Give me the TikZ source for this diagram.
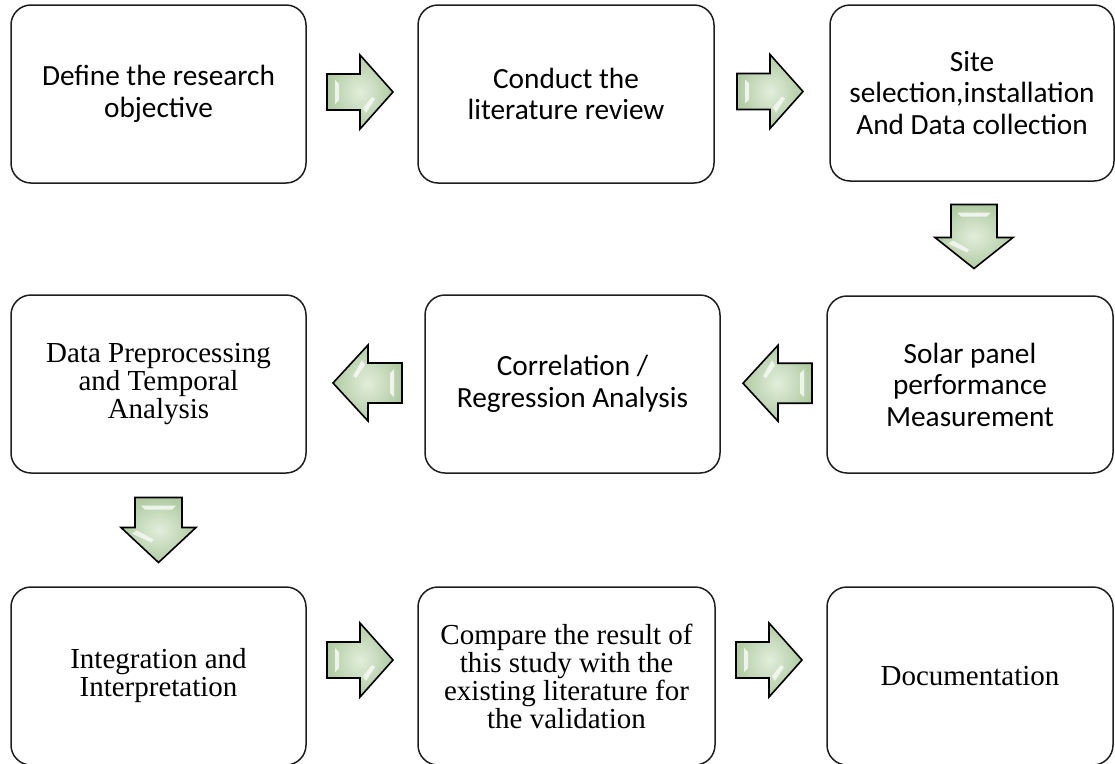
\documentclass[tikz,border=0pt]{standalone}
\usepackage{fontspec}
\setmainfont{Carlito}
\newfontfamily\timesf{Liberation Serif}
\usetikzlibrary{calc}
\definecolor{arrowmid}{RGB}{226,238,220}
\definecolor{arrowedge}{RGB}{176,203,162}
\definecolor{boxline}{RGB}{30,30,30}
\tikzset{
  box/.style={draw=boxline, line width=1.5pt, rounded corners=20pt,
    minimum width=295pt, minimum height=178pt, align=center, inner sep=0pt},
  calib/.style={font=\fontsize{29.3}{31.5}\selectfont},
  tnr/.style={font=\timesf\fontsize{29}{28}\selectfont},
  pics/barrow/.style args={#1/#2/#3/#4}{code={
    \shade[inner color=arrowmid, outer color=arrowedge]
      ({-#1/2},{-#3}) -- ({-#1/2+#2},{-#3}) -- ({-#1/2+#2},{-#4}) -- ({#1/2},0)
      -- ({-#1/2+#2},{#4}) -- ({-#1/2+#2},{#3}) -- ({-#1/2},{#3}) -- cycle;
    \fill[white, opacity=0.75]
      ({-#1/2+8},{-#3+6}) -- ({-#1/2+12},{-#3+10}) -- ({-#1/2+12},{#3-10})
      -- ({-#1/2+8},{#3-6}) -- cycle;
    \fill[white, opacity=0.7]
      ({-#1/2+#2+3},{#3-2}) -- ({-#1/2+#2+12},{5}) -- ({-#1/2+#2+15},{7})
      -- ({-#1/2+#2+6},{#3+3}) -- cycle;
    \draw[line width=1.6pt, line join=miter, draw=black]
      ({-#1/2},{-#3}) -- ({-#1/2+#2},{-#3}) -- ({-#1/2+#2},{-#4}) -- ({#1/2},0)
      -- ({-#1/2+#2},{#4}) -- ({-#1/2+#2},{#3}) -- ({-#1/2},{#3}) -- cycle;
  }}
}
\begin{document}
\begin{tikzpicture}[x=1pt, y=-1pt]
\useasboundingbox (0,0) rectangle (1115,763);

% row 1
\node[box, calib] (b1) at (158.5,94) {Define the research\\objective};
\node[box, calib, minimum width=296pt] (b2) at (566,94) {Conduct the\\literature review};
\node[box, calib, minimum width=284pt, minimum height=176pt] (b3) at (972,93) {Site\\selection,installation\\And Data collection};
% row 2
\node[box, tnr] (b4) at (158.5,384) {Data Preprocessing\\and Temporal\\Analysis};
\node[box, calib] (b5) at (572.5,384) {Correlation /\\Regression Analysis};
\node[box, calib, minimum width=286pt, minimum height=177pt] (b6) at (970,384.5) {Solar panel\\performance\\Measurement};
% row 3
\node[box, tnr] (b7) at (158.5,676) {Integration and\\Interpretation};
\node[box, tnr, minimum width=297pt] (b8) at (566.5,676) {Compare the result of\\this study with the\\existing literature for\\the validation};
\node[box, tnr, minimum width=286pt] (b9) at (970,676) {Documentation};

% block arrows
\pic at ($(b1.east)!0.5!(b2.west)+(-2,-2)$) {barrow=66/33/18/37};
\pic at ($(b2.east)!0.5!(b3.west)+(-2,-2)$) {barrow=66/33/18/37};
\pic[rotate=-90] at ($(b3.south)!0.5!(b6.north)+(3,-2)$) {barrow=64/33/23/39};
\pic[rotate=180] at ($(b6.west)!0.5!(b5.east)+(4,-1)$) {barrow=69/34/20/38};
\pic[rotate=180] at ($(b5.west)!0.5!(b4.east)+(2,-1)$) {barrow=69/34/20/38};
\pic[rotate=-90] at ($(b4.south)!0.5!(b7.north)$) {barrow=65/30/23.5/37.5};
\pic at ($(b7.east)!0.5!(b8.west)+(-2,-16)$) {barrow=66/33/18/37};
\pic at ($(b8.east)!0.5!(b9.west)+(-2,-16)$) {barrow=66/33/18/37};
\end{tikzpicture}
\end{document}
